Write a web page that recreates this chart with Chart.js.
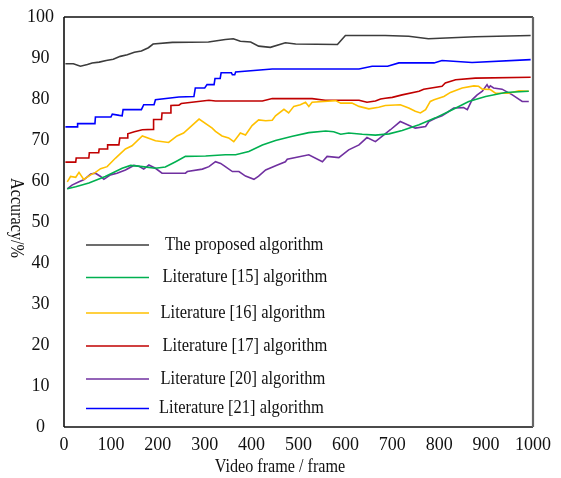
<!DOCTYPE html>
<html>
<head>
<meta charset="utf-8">
<script src="https://cdn.jsdelivr.net/npm/chart.js@4/dist/chart.umd.min.js"></script>
<style>
html,body{margin:0;padding:0;background:#fff;}
#wrap{width:561px;height:478px;}
</style>
</head>
<body>
<div id="wrap"><canvas id="c" width="561" height="478"></canvas></div>
<script>
// ---- data ----
const seriesLabels = ["The proposed algorithm","Literature [15] algorithm","Literature [16] algorithm","Literature [17] algorithm","Literature [20] algorithm","Literature [21] algorithm"];
const seriesColors = ["#3c3c3c","#00b050","#ffc000","#c00000","#7030a0","#0000ff"];

const xTicks = [0,100,200,300,400,500,600,700,800,900,1000];
const yTicks = [0,10,20,30,40,50,60,70,80,90,100];

const proposedFrames = [3,20,35,50,60,75,90,105,120,135,150,165,180,190,231,308,344,361,376,398,415,440,472,494,583,600,685,735,777,877,995];
const proposedAcc    = [88.6,88.6,88.0,88.4,88.8,89.0,89.4,89.7,90.4,90.8,91.4,91.7,92.5,93.4,93.8,93.9,94.5,94.7,94.1,93.9,92.9,92.6,93.7,93.4,93.3,95.5,95.5,95.3,94.7,95.2,95.5];

const lit15Frames = [7,25,53,88,124,142,167,195,216,238,259,302,344,366,394,423,451,487,522,558,575,590,607,636,664,693,721,757,792,828,863,899,941,991];
const lit15Acc    = [58.1,58.6,59.5,61.1,63.1,63.8,63.5,63.1,63.4,64.7,66.0,66.1,66.4,66.4,67.2,68.8,69.9,70.9,71.8,72.2,72.0,71.4,71.7,71.4,71.2,71.5,72.3,73.7,75.4,77.4,79.4,80.6,81.6,81.9];

const lit16Frames = [7,14,25,32,42,57,67,78,92,110,131,145,167,195,223,241,255,288,316,323,337,351,362,376,387,401,415,430,444,451,469,479,490,504,515,522,529,579,590,614,629,650,671,685,717,735,749,760,771,781,789,810,824,835,849,874,884,892,909,920,948,970,991];
const lit16Acc    = [59.8,61.1,60.9,62.1,60.4,61.5,62.1,63.0,63.5,65.6,67.8,68.6,71.0,69.8,69.4,71.0,71.7,75.1,72.9,72.1,71.0,70.5,69.6,71.7,71.2,73.5,74.9,74.7,74.8,75.9,77.5,76.6,78.2,78.6,79.2,78.2,79.2,79.6,79.0,79.0,78.2,77.6,78.0,78.4,78.6,77.8,77.0,76.6,77.4,79.4,79.8,80.6,81.6,82.1,82.7,83.2,83.1,82.4,82.3,81.4,81.4,82.0,81.9];

const lit17Frames = [3,25,26,53,54,74,75,92,93,117,119,135,136,150,167,190,191,208,209,227,228,245,250,309,323,423,444,529,557,629,646,664,675,685,700,721,757,767,806,813,835,877,995];
const lit17Acc    = [64.6,64.6,65.6,65.6,66.9,66.9,67.8,67.8,68.8,68.8,70.5,70.5,71.5,72.0,72.5,72.6,75.0,75.0,76.6,76.6,78.4,78.5,78.9,79.7,79.5,79.5,80.1,80.1,79.7,79.7,79.2,79.5,80.0,80.2,80.4,81.0,81.9,82.4,83.1,83.9,84.7,85.1,85.3];

const lit20Frames = [7,17,32,42,57,67,78,85,99,113,131,149,160,170,181,195,209,259,263,295,309,323,334,344,359,373,387,405,415,430,455,472,476,522,551,561,586,607,629,646,664,678,696,717,749,771,778,792,806,817,831,852,860,870,881,892,902,906,909,916,934,956,977,991];
const lit20Acc    = [58.1,59.0,59.8,60.3,61.7,61.9,61.1,60.4,61.5,61.9,62.7,63.8,63.6,62.9,63.9,63.1,61.9,61.9,62.3,62.9,63.5,64.7,64.3,63.5,62.3,62.3,61.2,60.4,61.2,62.7,63.9,64.7,65.3,66.4,64.7,66.0,65.7,67.6,68.8,70.6,69.6,70.9,72.5,74.5,72.9,73.3,74.5,75.3,75.9,76.7,77.8,77.9,77.4,79.8,81.0,81.9,83.5,82.7,83.2,82.7,82.4,81.0,79.4,79.4];

const lit21Frames = [3,28,29,66,67,100,103,118,124,126,165,170,192,195,245,277,280,300,305,320,322,333,335,357,359,364,366,444,629,657,690,714,789,806,870,995];
const lit21Acc    = [73.2,73.2,74.0,74.0,75.6,75.6,76.3,76.0,75.9,77.4,77.4,78.6,78.6,79.8,80.5,80.6,82.7,82.7,83.5,83.5,85.0,85.0,86.4,86.4,85.9,85.9,86.6,87.3,87.3,88.0,88.0,88.8,88.8,89.4,88.9,89.6];

const xTitle = "Video frame / frame";
const yTitle = "Accuracy/%";

// ---- build ----
const allFrames = [proposedFrames, lit15Frames, lit16Frames, lit17Frames, lit20Frames, lit21Frames];
const allAcc = [proposedAcc, lit15Acc, lit16Acc, lit17Acc, lit20Acc, lit21Acc];
const datasets = seriesLabels.map((lab, k) => ({
  label: lab,
  data: allFrames[k].map((f, i) => ({x: f, y: allAcc[k][i]})),
  borderColor: seriesColors[k],
  backgroundColor: seriesColors[k],
  borderWidth: 1.6,
  pointRadius: 0,
  tension: 0,
  fill: false
}));
const FONT = "'Liberation Serif','Times New Roman',serif";

const decor = {
  id: 'decor',
  afterDatasetsDraw(chart) {
    const ctx = chart.ctx, a = chart.chartArea;
    ctx.save();
    // frame
    ctx.lineWidth = 1.6;
    ctx.strokeStyle = '#111';
    ctx.beginPath();
    ctx.moveTo(a.left, a.top); ctx.lineTo(a.right, a.top);
    ctx.moveTo(a.left, a.bottom); ctx.lineTo(a.right, a.bottom);
    ctx.moveTo(a.left, a.top); ctx.lineTo(a.left, a.bottom);
    ctx.stroke();
    ctx.strokeStyle = '#666';
    ctx.lineWidth = 2.2;
    ctx.beginPath();
    ctx.moveTo(a.right, a.top); ctx.lineTo(a.right, a.bottom);
    ctx.stroke();
    // legend
    const ys = [245, 277.5, 313, 346, 379, 408.5];
    const tx = [165, 162.5, 160.5, 162.5, 160.5, 159];
    ctx.font = "17px " + FONT;
    ctx.textBaseline = 'middle';
    ctx.textAlign = 'left';
    chart.data.datasets.forEach((ds, i) => {
      ctx.strokeStyle = ds.borderColor;
      ctx.lineWidth = 1.6;
      ctx.beginPath();
      ctx.moveTo(86, ys[i]); ctx.lineTo(149, ys[i]);
      ctx.stroke();
      ctx.fillStyle = '#111';
      ctx.save();
      ctx.translate(tx[i], ys[i]);
      ctx.scale(0.97, 1.1);
      ctx.fillText(ds.label, 0, 0);
      ctx.restore();
    });
    // axis titles
    ctx.fillStyle = '#111';
    ctx.font = "17px " + FONT;
    ctx.textAlign = 'center';
    ctx.save();
    ctx.translate(280, 467);
    ctx.scale(0.95, 1.08);
    ctx.fillText(xTitle, 0, 0);
    ctx.restore();
    ctx.save();
    ctx.translate(16, 218);
    ctx.rotate(Math.PI / 2);
    ctx.scale(0.95, 1.08);
    ctx.fillText(yTitle, 0, 0);
    ctx.restore();
    ctx.restore();
  }
};

new Chart(document.getElementById('c'), {
  type: 'line',
  data: { datasets },
  options: {
    responsive: false,
    animation: false,
    layout: { padding: { left: 0, top: 17, right: 28, bottom: 0 } },
    plugins: { legend: { display: false }, tooltip: { enabled: false } },
    scales: {
      x: {
        type: 'linear', min: 0, max: 1000,
        afterBuildTicks: s => { s.ticks = xTicks.map(v => ({value: v})); },
        afterFit: s => { s.height = 51; s.paddingLeft = 0; s.paddingRight = 0; },
        grid: { display: false, drawTicks: false },
        border: { display: false },
        ticks: { color: '#111', font: { family: FONT, size: 18 }, padding: 7, maxRotation: 0, autoSkip: false,
                 callback: v => String(v) }
      },
      y: {
        type: 'linear', min: 0, max: 100,
        afterBuildTicks: s => { s.ticks = yTicks.map(v => ({value: v})); },
        afterFit: s => { s.width = 64; s.paddingTop = 0; s.paddingBottom = 0; },
        grid: { display: false, drawTicks: false },
        border: { display: false },
        ticks: { color: '#111', font: { family: FONT, size: 18 }, padding: 10, crossAlign: 'center', autoSkip: false,
                 callback: v => String(v) }
      }
    }
  },
  plugins: [decor]
});
</script>
</body>
</html>
